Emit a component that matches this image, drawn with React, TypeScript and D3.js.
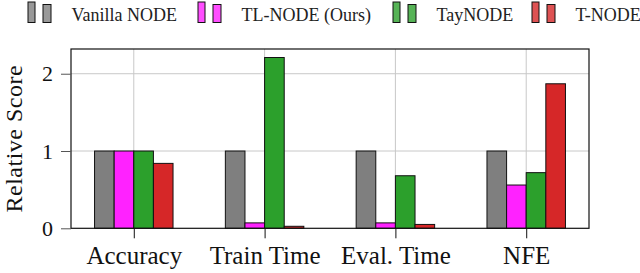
import React, { useEffect, useRef } from 'react';
import * as d3 from 'd3';

const categories = ['Accuracy', 'Train Time', 'Eval. Time', 'NFE'];
const seriesNames = ['Vanilla NODE', 'TL-NODE (Ours)', 'TayNODE', 'T-NODE'];
const vanilla = [1.0, 1.0, 1.0, 1.0];
const tlnode = [1.0, 0.07, 0.07, 0.56];
const taynode = [1.0, 2.21, 0.68, 0.72];
const tnode = [0.84, 0.026, 0.05, 1.87];
const yTicks = [0, 1, 2];

const colors = ['#7f7f7f', '#ff22ff', '#2ca02c', '#d62728'];
const legendX = [28, 198, 393, 532];

const App = () => {
    const svgRef = useRef<SVGSVGElement>(null);

    useEffect(() => {
        if (!svgRef.current) return;
        const svg = d3.select(svgRef.current);
        svg.selectAll('*').remove();

        const W = 640, H = 273;
        const left = 71, right = 589, top = 49, bottom = 228.3;
        const font = '"Liberation Serif", "Times New Roman", Times, serif';

        const x = d3.scaleLinear().domain([-0.48, categories.length - 0.52]).range([left, right]);
        const y = d3.scaleLinear().domain([0, 2.32]).range([bottom, top]);
        const bw = 0.15;

        svg.attr('width', W).attr('height', H).style('display', 'block')
            .style('font-family', font);

        // grid
        const g = svg.append('g');
        g.selectAll('line.hgrid')
            .data(yTicks.filter(t => t > 0))
            .join('line')
            .attr('x1', left).attr('x2', right)
            .attr('y1', d => y(d)).attr('y2', d => y(d))
            .attr('stroke', '#c8c8c8').attr('stroke-width', 1);
        g.selectAll('line.vgrid')
            .data(categories)
            .join('line')
            .attr('x1', (d, i) => x(i)).attr('x2', (d, i) => x(i))
            .attr('y1', top).attr('y2', bottom)
            .attr('stroke', '#c8c8c8').attr('stroke-width', 1);

        // bars
        const allSeries = [vanilla, tlnode, taynode, tnode];
        allSeries.forEach((vals, s) => {
            g.append('g').selectAll('rect')
                .data(vals)
                .join('rect')
                .attr('x', (d, i) => x(i + (s - 2) * bw))
                .attr('width', x(bw) - x(0))
                .attr('y', d => y(d))
                .attr('height', d => y(0) - y(d))
                .attr('fill', colors[s])
                .attr('stroke', '#111')
                .attr('stroke-width', 1);
        });

        // frame
        g.append('rect')
            .attr('x', left).attr('y', top)
            .attr('width', right - left).attr('height', bottom - top)
            .attr('fill', 'none').attr('stroke', '#111').attr('stroke-width', 1.2);

        // y axis
        const yAxis = svg.append('g')
            .attr('transform', `translate(${left},0)`)
            .call(d3.axisLeft(y).tickValues(yTicks).tickSize(10).tickPadding(8).tickFormat(d3.format('d')));
        yAxis.select('.domain').remove();
        yAxis.attr('font-family', null);
        yAxis.selectAll('.tick line').attr('stroke', '#555');
        yAxis.selectAll('.tick text')
            .style('font-family', font).attr('font-size', 22).attr('fill', '#111');

        // x axis
        const xAxis = svg.append('g')
            .attr('transform', `translate(0,${bottom})`)
            .call(d3.axisBottom(x).tickValues(d3.range(categories.length)).tickSize(10).tickPadding(8)
                .tickFormat(i => categories[+i]));
        xAxis.select('.domain').remove();
        xAxis.attr('font-family', null);
        xAxis.selectAll('.tick line').attr('stroke', '#111');
        xAxis.selectAll('.tick text')
            .style('font-family', font).attr('font-size', 25).attr('fill', '#111');

        // y label
        svg.append('text')
            .attr('transform', `translate(21.5,${(top + bottom) / 2}) rotate(-90)`)
            .attr('text-anchor', 'middle')
            .attr('letter-spacing', 0.5)
            .style('font-family', font).attr('font-size', 24).attr('fill', '#111')
            .text('Relative Score');

        // legend
        const lg = svg.append('g').selectAll('g')
            .data(seriesNames)
            .join('g')
            .attr('transform', (d, i) => `translate(${legendX[i]},0)`);
        lg.append('rect')
            .attr('x', 0).attr('y', 2).attr('width', 7).attr('height', 20.5)
            .attr('fill', (d, i) => colors[i]).attr('fill-opacity', 0.8)
            .attr('stroke', '#111').attr('stroke-width', 1);
        lg.append('rect')
            .attr('x', 15).attr('y', 4.5).attr('width', 8).attr('height', 18)
            .attr('fill', (d, i) => colors[i]).attr('fill-opacity', 0.8)
            .attr('stroke', '#111').attr('stroke-width', 1);
        lg.append('text')
            .attr('x', 43.5).attr('y', 21)
            .style('font-family', font).attr('font-size', 18).attr('fill', '#222')
            .text(d => d);
    }, []);

    return <svg ref={svgRef} style={{ position: 'absolute', left: 0, top: 0 }} />;
};

export default App;
